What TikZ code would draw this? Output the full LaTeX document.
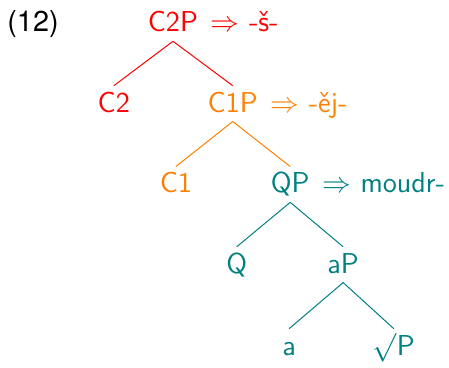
\documentclass[tikz,border=0pt]{standalone}
\usepackage{amsmath,amssymb}
\usepackage{fontspec}
\usepackage{xcolor}
\usepackage{tikz}
\usetikzlibrary{positioning}
\newfontfamily\exnumfont{TeX Gyre Heros}
\definecolor{cpred}{HTML}{FF0000}
\definecolor{cporange}{HTML}{FF8000}
\definecolor{qpteal}{HTML}{008080}
\tikzset{
  catnode/.style={anchor=base,font=\sffamily\Large,inner sep=3pt,
    text height=10pt,text depth=1.5pt},
  spellnote/.style={font=\sffamily\Large,inner sep=3pt,
    text height=10pt,text depth=1.5pt},
  branch/.style={line width=0.5pt}
}

\begin{document}
\begin{tikzpicture}[x=1cm,y=1cm]
  \useasboundingbox (-3.04,-5.90) rectangle (4.85,0.56);
  \node[catnode,text=black,font=\exnumfont\Large] (exnum) at (-2.46,0) {(12)};
  % CP layers
  \node[catnode,text=cpred] (c2p) at (0,0) {C2P};
  \node[spellnote,text=cpred,right=0pt of c2p] (c2pnote) {$\Rightarrow$ -š-};
  \node[catnode,text=cpred] (c2) at (-1.04,-1.41) {C2};
  \node[catnode,text=cporange] (c1p) at (1.05,-1.41) {C1P};
  \node[spellnote,text=cporange,right=0pt of c1p] (c1pnote) {$\Rightarrow$ -ěj-};
  \node[catnode,text=cporange] (c1) at (0.05,-2.83) {C1};
  % QP and below
  \node[catnode,text=qpteal] (qp) at (2.06,-2.83) {QP};
  \node[spellnote,text=qpteal,right=0pt of qp] (qpnote) {$\Rightarrow$ moudr-};
  \node[catnode,text=qpteal] (q) at (1.12,-4.24) {Q};
  \node[catnode,text=qpteal] (ap) at (2.99,-4.24) {aP};
  \node[catnode,text=qpteal] (a) at (2.04,-5.68) {a};
  \node[catnode,text=qpteal] (rootp) at (3.88,-5.68) {$\surd$P};
  \draw[branch,cpred] (c2p.south) -- (c2.north);
  \draw[branch,cpred] (c2p.south) -- (c1p.north);
  \draw[branch,cporange] (c1p.south) -- (c1.north);
  \draw[branch,cporange] (c1p.south) -- (qp.north);
  \draw[branch,qpteal] (qp.south) -- (q.north);
  \draw[branch,qpteal] (qp.south) -- (ap.north);
  \draw[branch,qpteal] (ap.south) -- (a.north);
  \draw[branch,qpteal] (ap.south) -- (rootp.north);
\end{tikzpicture}
\end{document}
